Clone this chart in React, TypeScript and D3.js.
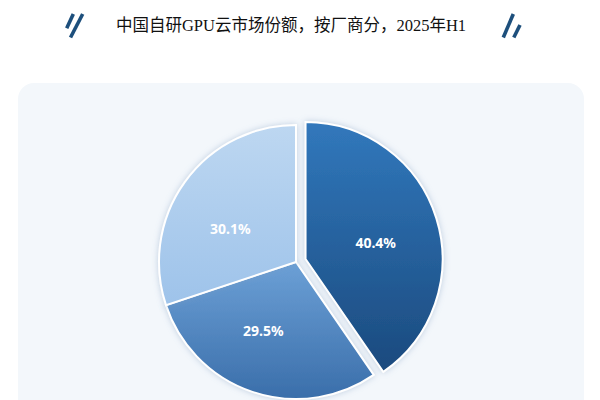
import React from "react";
import * as d3 from "d3";

const title = "中国自研GPU云市场份额，按厂商分，2025年H1";
const labels = ["40.4%", "29.5%", "30.1%"];
const values = [40.4, 29.5, 30.1];

const W = 600;
const H = 400;
const cx = 296;
const cy = 262;
const R = 137;
const explode = 10;
const gradTop = ["#3178bc", "#6ca0d6", "#bdd7f1"];
const gradBottom = ["#1b4a7e", "#3a6eaa", "#9ec3ea"];
const explodeIdx = [0];
const labelRadius = [72, 76, 74];
const labelAngleNudge = [4.3, 7, -8.5];

export default function App() {
  const pie = d3.pie<number>().sort(null).value((d) => d).startAngle(0).endAngle(2 * Math.PI);
  const arcs = pie(values);
  const arc = d3.arc<d3.PieArcDatum<number>>().innerRadius(0).outerRadius(R);

  return (
    <div style={{ position: "fixed", left: 0, top: 0 }}>
      <svg width={W} height={H} style={{ display: "block", background: "#fff" }}>
        <defs>
          {arcs.map((_, i) => (
            <linearGradient key={i} id={`g${i}`} x1="0" y1="0" x2="0" y2="1">
              <stop offset="0" stopColor={gradTop[i]} />
              <stop offset="1" stopColor={gradBottom[i]} />
            </linearGradient>
          ))}
          <filter id="sh" x="-20%" y="-20%" width="140%" height="140%">
            <feDropShadow dx="0" dy="0" stdDeviation="3" floodColor="#7f9cc0" floodOpacity="0.45" />
          </filter>
        </defs>
        <rect x={18} y={83} width={566} height={360} rx={16} fill="#f3f7fb" />
        {/* decorations */}
        <g stroke="#1d4f7c" strokeWidth={3.6} strokeLinecap="butt">
          <line x1={73.3} y1={14} x2={66.7} y2={28.3} />
          <line x1={82.7} y1={14} x2={70.5} y2={37.5} />
          <line x1={513.3} y1={14} x2={503.3} y2={37.5} />
          <line x1={520} y1={25} x2={513.8} y2={37.5} />
        </g>
        <text
          x={291}
          y={25}
          textAnchor="middle"
          dominantBaseline="central"
          fontFamily="'Liberation Serif', 'Noto Sans CJK SC', serif"
          fontSize={16.5}
          fill="#111"
        >
          {title}
        </text>
        <g transform={`translate(${cx},${cy})`}>
          {arcs.map((a, i) => {
            const mid = (a.startAngle + a.endAngle) / 2;
            const off = explodeIdx.includes(i) ? explode : 0;
            const dx = Math.sin(mid) * off;
            const dy = -Math.cos(mid) * off;
            return (
              <path
                key={i}
                d={arc(a) || ""}
                transform={`translate(${dx},${dy})`}
                fill={`url(#g${i})`}
                stroke="#fff"
                strokeWidth={2}
                filter="url(#sh)"
              />
            );
          })}
          {arcs.map((a, i) => {
            const mid = (a.startAngle + a.endAngle) / 2;
            const off = explodeIdx.includes(i) ? explode : 0;
            const ang = mid + (labelAngleNudge[i] * Math.PI) / 180;
            const lr = labelRadius[i];
            const la = d3.arc<any>().innerRadius(lr).outerRadius(lr);
            const [lx, ly] = la.centroid({ startAngle: ang, endAngle: ang });
            return (
              <text
                key={i}
                x={lx + Math.sin(mid) * off}
                y={ly - Math.cos(mid) * off}
                textAnchor="middle"
                dominantBaseline="central"
                fontFamily="'Noto Sans', sans-serif"
                fontWeight="bold"
                fontSize={14}
                fill="#fff"
              >
                {labels[i]}
              </text>
            );
          })}
        </g>
      </svg>
    </div>
  );
}
